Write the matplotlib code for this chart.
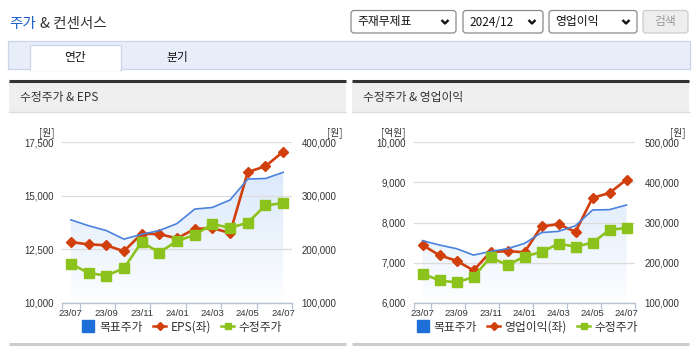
import matplotlib
matplotlib.use('Agg')
import matplotlib.pyplot as plt
import matplotlib.font_manager as fm
from matplotlib.patches import Rectangle, FancyBboxPatch, Polygon
from matplotlib.lines import Line2D
from matplotlib.colors import LinearSegmentedColormap
from matplotlib.ticker import StrMethodFormatter
import numpy as np

# ---- data ----
months = ['23/07', '23/08', '23/09', '23/10', '23/11', '23/12', '24/01',
          '24/02', '24/03', '24/04', '24/05', '24/06', '24/07']
tick_labels = ['23/07', '23/09', '23/11', '24/01', '24/03', '24/05', '24/07']

target_price = [255000, 244000, 235000, 219000, 228000, 235000, 248000,
                275000, 278000, 292000, 331000, 332000, 343500]
adj_price = [173000, 156000, 151000, 164600, 213600, 194000, 215500,
             226700, 247300, 240000, 249800, 281800, 286300]
eps = [12840, 12730, 12690, 12410, 13230, 13210, 13010,
       13450, 13490, 13260, 16100, 16370, 17050]
op_profit = [7440, 7185, 7050, 6810, 7265, 7290, 7260,
             7905, 7955, 7770, 8610, 8735, 9065]

eps_ticks = [10000, 12500, 15000, 17500]
op_ticks = [6000, 7000, 8000, 9000, 10000]
price_ticks_l = [100000, 200000, 300000, 400000]
price_ticks_r = [100000, 200000, 300000, 400000, 500000]

W, H = 695, 349
KR = ['Noto Sans CJK KR', 'DejaVu Sans']
installed = {f.name for f in fm.fontManager.ttflist}
NUM = 'Liberation Sans Narrow' if 'Liberation Sans Narrow' in installed else 'Liberation Sans'
plt.rcParams['font.family'] = [NUM, 'DejaVu Sans']

BLUE = '#4a82dc'
RED = '#d13f0c'
GREEN = '#8cc21c'
AXC = '#b6c2d4'
TXT = '#333333'


def rect(x0, y0, x1, y1):
    return [x0 / W, 1 - y1 / H, (x1 - x0) / W, (y1 - y0) / H]


fig = plt.figure(figsize=(W / 100, H / 100), dpi=100)
fig.patch.set_facecolor('white')

bg = fig.add_axes([0, 0, 1, 1])
bg.set_xlim(0, W)
bg.set_ylim(H, 0)
bg.axis('off')

# title
bg.text(9, 24, '주가', color='#1a5fc9', fontsize=10.5, family=KR, va='center')
bg.text(40, 24, '& 컨센서스', color=TXT, fontsize=10.5, family=KR, va='center')

# dropdowns
for (a, b, label) in [(351, 456, '주재무제표'), (463, 543, '2024/12'), (549, 637, '영업이익')]:
    bg.add_patch(FancyBboxPatch((a, 10.5), b - a, 22.5, boxstyle='round,pad=0,rounding_size=3',
                                fc='white', ec='#8a8a8a', lw=0.9))
    bg.text(a + 6, 22, label, fontsize=8.5, family=KR, color='#111', va='center')
    cx = b - 11
    bg.plot([cx - 3.5, cx, cx + 3.5], [20, 23.5, 20], color='#111', lw=1.7, solid_capstyle='butt')
bg.add_patch(FancyBboxPatch((643, 10.5), 45, 22.5, boxstyle='round,pad=0,rounding_size=3',
                            fc='#eeeeee', ec='#cccccc', lw=0.9))
bg.text(665.5, 22, '검색', fontsize=8.5, family=KR, color='#999999', ha='center', va='center')

# tab bar
bg.add_patch(Rectangle((8, 41), 682, 28, fc='#e8eef9', ec='#c9d5e8', lw=0.9))
bg.add_patch(Rectangle((30, 45), 91, 25, fc='white', ec='#c9d5e8', lw=0.9))
bg.add_patch(Rectangle((30.6, 68), 89.8, 3, fc='white', ec='none'))
bg.text(75.5, 57.5, '연간', fontsize=8.5, family=KR, color='#111', ha='center', va='center')
bg.text(177, 57.5, '분기', fontsize=8.5, family=KR, color='#111', ha='center', va='center')

# panel headers and bottom rules
for (a, b, head) in [(9, 346, '수정주가 & EPS'), (352, 689, '수정주가 & 영업이익')]:
    bg.add_patch(Rectangle((a, 82), b - a, 30, fc='#efefef', ec='none'))
    bg.plot([a, b], [81, 81], color='#333333', lw=2.2, solid_capstyle='butt')
    bg.plot([a, b], [112, 112], color='#dddddd', lw=1)
    bg.text(a + 11, 97, head, fontsize=8.5, family=KR, color=TXT, va='center')
    bg.plot([a, b], [343.5, 343.5], color='#cccccc', lw=2.2, solid_capstyle='butt')

cmap = LinearSegmentedColormap.from_list('fillgrad', ['#fdfeff', '#d3e4fa'])


def draw_chart(x0, x1, left_vals, left_ticks, right_ticks, left_name, units, legend_cx):
    ax = fig.add_axes(rect(x0, 142, x1, 303))
    ax.set_facecolor('none')
    axr = ax.twinx()
    x = np.arange(len(months))

    # gradient area under target price (drawn on left axes, clipped by right-axis polygon)
    verts = list(zip(x, target_price)) + [(x[-1], right_ticks[0]), (x[0], right_ticks[0])]
    clip = Polygon(verts, closed=True, transform=axr.transData)
    grad = np.linspace(1, 0, 256).reshape(-1, 1)
    im = ax.imshow(grad, extent=[0, 1, 0, 1], transform=ax.transAxes, aspect='auto',
                   cmap=cmap, zorder=0.3, interpolation='bilinear')
    im.set_clip_path(clip)

    ax.plot(x, left_vals, color=RED, lw=1.9, marker='D', ms=5, zorder=3)
    axr.plot(x, target_price, color=BLUE, lw=1.2, zorder=2)
    axr.plot(x, adj_price, color=GREEN, lw=1.9, marker='s', ms=6.5, zorder=3)

    ax.set_xlim(-0.5, len(months) - 0.5)
    ax.set_ylim(left_ticks[0], left_ticks[-1])
    axr.set_ylim(right_ticks[0], right_ticks[-1])
    ax.set_yticks(left_ticks)
    axr.set_yticks(right_ticks)
    ax.yaxis.set_major_formatter(StrMethodFormatter('{x:,.0f}'))
    axr.yaxis.set_major_formatter(StrMethodFormatter('{x:,.0f}'))
    ax.yaxis.grid(True, color='#dcdcdc', lw=0.9)

    ax.set_xticks(range(0, len(months), 2))
    ax.set_xticklabels(tick_labels)
    ax.set_xticks([-0.5] + [i + 0.5 for i in range(0, len(months), 2)], minor=True)
    ax.tick_params(axis='x', which='major', length=0, pad=4, labelsize=6.8, labelcolor=TXT)
    ax.tick_params(axis='x', which='minor', length=4, width=0.9, color=AXC)
    ax.tick_params(axis='y', length=0, pad=6, labelsize=7, labelcolor=TXT)
    axr.tick_params(axis='y', length=0, pad=7, labelsize=7, labelcolor=TXT)

    for a in (ax, axr):
        for s in ('top', 'left', 'right'):
            a.spines[s].set_visible(False)
    axr.spines['bottom'].set_visible(False)
    ax.spines['bottom'].set_color(AXC)
    ax.spines['bottom'].set_linewidth(1)

    bg.text(units[0], 133, units[1], fontsize=7, family=KR, color=TXT, ha='center', va='center')
    bg.text(units[2], 133, '[원]', fontsize=7, family=KR, color=TXT, ha='center', va='center')

    handles = [Line2D([], [], ls='none', marker='s', ms=8, color='#1f6fd9'),
               Line2D([], [], color=RED, lw=1.8, marker='D', ms=4),
               Line2D([], [], color=GREEN, lw=1.8, marker='s', ms=5)]
    fig.legend(handles, ['목표주가', left_name, '수정주가'], loc='center',
               bbox_to_anchor=(legend_cx / W, 1 - 327 / H), ncol=3, frameon=False,
               prop={'family': KR, 'size': 8.5}, labelcolor=TXT, handlelength=1.1,
               handletextpad=0.35, columnspacing=0.9, borderpad=0)


draw_chart(62, 292, eps, eps_ticks, price_ticks_l, 'EPS(좌)', (47, '[원]', 335), 182)
draw_chart(414, 635, op_profit, op_ticks, price_ticks_r, '영업이익(좌)', (393, '[억원]', 678), 527)

fig.savefig('out.png', dpi=100)
